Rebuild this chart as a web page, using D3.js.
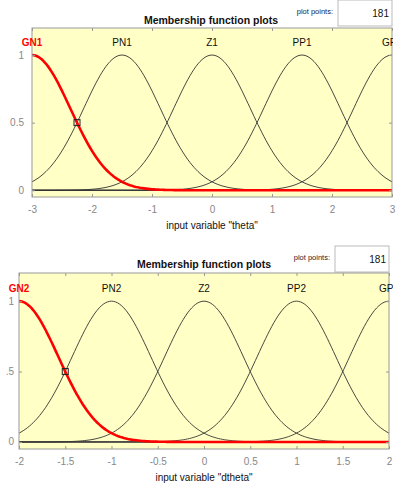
<!DOCTYPE html>
<html>
<head>
<meta charset="utf-8">
<script src="https://cdn.jsdelivr.net/npm/d3@7"></script>
<style>
  body { margin: 0; background: #fff; }
  svg { display: block; font-family: "Liberation Sans", Arial, sans-serif; }
</style>
</head>
<body>
<div id="chart"></div>
<script>
// membership functions (gaussmf: center, sigma)
const thetaNames = ["GN1", "PN1", "Z1", "PP1", "GP1"];
const thetaCenters = [-3, -1.5, 0, 1.5, 3];
const thetaSigma = [0.637, 0.637, 0.637, 0.637, 0.637];
const thetaTicks = [-3, -2, -1, 0, 1, 2, 3];

const dthetaNames = ["GN2", "PN2", "Z2", "PP2", "GP2"];
const dthetaCenters = [-2, -1, 0, 1, 2];
const dthetaSigma = [0.4247, 0.4247, 0.4247, 0.4247, 0.4247];
const dthetaTicks = [-2, -1.5, -1, -0.5, 0, 0.5, 1, 1.5, 2];

const plotPoints = 181;

const width = 398;
const height = 487;

const svg = d3.create("svg")
    .attr("width", width)
    .attr("height", height);
d3.select("#chart").append(() => svg.node());

// the mf labels on the right are cut off like in the original window
svg.append("clipPath").attr("id", "fig")
  .append("rect").attr("x", 0).attr("y", 0).attr("width", 393).attr("height", height);

const panels = [
  { names: thetaNames, centers: thetaCenters, sigma: thetaSigma, ticks: thetaTicks,
    domain: [-3, 3], left: 32, right: 392, top: 28, bottom: 197,
    titleY: 24, titleX: 211, label: 'input variable "theta"',
    box: [338, 0, 54, 26], yFmt: d => d === 0.5 ? "0.5" : d, mark: -2.25,
    yLabX: 24 },
  { names: dthetaNames, centers: dthetaCenters, sigma: dthetaSigma, ticks: dthetaTicks,
    domain: [-2, 2], left: 19, right: 389, top: 273, bottom: 449,
    titleY: 268, titleX: 204, label: 'input variable "dtheta"',
    box: [335, 246, 54, 26], yFmt: d => d === 0.5 ? ".5" : d, mark: -1.5,
    yLabX: 14 }
];

panels.forEach(p => {
  const g = svg.append("g");

  const x = d3.scaleLinear().domain(p.domain).range([p.left, p.right]);
  const y = d3.scaleLinear().domain([-0.05, 1.2]).range([p.bottom, p.top]);

  const gauss = (v, c, s) => Math.exp(-((v - c) ** 2) / (2 * s * s));
  const xs = d3.range(plotPoints).map(i => p.domain[0] + i * (p.domain[1] - p.domain[0]) / (plotPoints - 1));

  // title and plot points box
  g.append("text").attr("x", p.titleX).attr("y", p.titleY)
    .attr("text-anchor", "middle").attr("font-weight", "bold").attr("font-size", 10.5)
    .attr("fill", "#111").text("Membership function plots");
  g.append("text").attr("x", p.box[0] - 5).attr("y", p.box[1] + 14)
    .attr("text-anchor", "end").attr("font-size", 7.5).attr("fill", "#223")
    .text("plot points:");
  g.append("rect").attr("x", p.box[0]).attr("y", p.box[1])
    .attr("width", p.box[2]).attr("height", p.box[3])
    .attr("fill", "#fff").attr("stroke", "#bbb");
  g.append("text").attr("x", p.box[0] + p.box[2] - 3).attr("y", p.box[1] + 17)
    .attr("text-anchor", "end").attr("font-size", 10).attr("fill", "#111")
    .text(plotPoints);

  // plot area
  g.append("rect").attr("x", p.left).attr("y", p.top)
    .attr("width", p.right - p.left).attr("height", p.bottom - p.top)
    .attr("fill", "#ffffc6");

  const line = d3.line().x(d => x(d[0])).y(d => y(d[1]));

  g.append("line").attr("x1", p.left).attr("x2", p.right)
    .attr("y1", y(0)).attr("y2", y(0)).attr("stroke", "#444").attr("stroke-width", 1);

  p.centers.forEach((c, i) => {
    if (i === 0) return;
    g.append("path").datum(xs.map(v => [v, gauss(v, c, p.sigma[i])]))
      .attr("d", line).attr("fill", "none").attr("stroke", "#333").attr("stroke-width", 0.9);
  });
  g.append("path").datum(xs.map(v => [v, gauss(v, p.centers[0], p.sigma[0])]))
    .attr("d", line).attr("fill", "none").attr("stroke", "#f00").attr("stroke-width", 2.6);

  // marker at the crossing
  g.append("rect").attr("x", x(p.mark) - 3).attr("y", y(0.5) - 3)
    .attr("width", 6).attr("height", 6).attr("fill", "none").attr("stroke", "#222");

  // border and ticks
  g.append("rect").attr("x", p.left).attr("y", p.top)
    .attr("width", p.right - p.left).attr("height", p.bottom - p.top)
    .attr("fill", "none").attr("stroke", "#999");

  g.append("g").attr("transform", `translate(0,${p.bottom})`)
    .call(d3.axisBottom(x).tickValues(p.ticks).tickSize(-3).tickPadding(9).tickFormat(d => d))
    .call(a => a.select(".domain").remove())
    .call(a => a.selectAll("line").attr("stroke", "#999"))
    .call(a => a.selectAll("text").attr("fill", "#888").attr("font-size", 10)
      .attr("font-family", "Liberation Sans, Arial, sans-serif"));
  g.append("g").attr("transform", `translate(0,${p.top})`)
    .call(d3.axisTop(x).tickValues(p.ticks).tickSize(-3).tickFormat(""))
    .call(a => a.select(".domain").remove())
    .call(a => a.selectAll("line").attr("stroke", "#999"));
  g.append("g").attr("transform", `translate(${p.left},0)`)
    .call(d3.axisLeft(y).tickValues([0, 0.5, 1]).tickSize(-3).tickFormat(""))
    .call(a => a.select(".domain").remove())
    .call(a => a.selectAll("line").attr("stroke", "#999"));
  g.append("g").attr("transform", `translate(${p.right},0)`)
    .call(d3.axisRight(y).tickValues([0, 0.5, 1]).tickSize(-3).tickFormat(""))
    .call(a => a.select(".domain").remove())
    .call(a => a.selectAll("line").attr("stroke", "#999"));

  g.selectAll(".ylab").data([0, 0.5, 1]).join("text")
    .attr("x", p.yLabX).attr("y", d => y(d) + 3.5)
    .attr("text-anchor", "end").attr("font-size", 10).attr("fill", "#888")
    .text(p.yFmt);

  g.append("text").attr("x", (p.left + p.right) / 2).attr("y", p.bottom + 32)
    .attr("text-anchor", "middle").attr("font-size", 10).attr("fill", "#111")
    .text(p.label);

  // mf names
  g.append("g").attr("clip-path", "url(#fig)")
    .selectAll("text").data(p.names).join("text")
    .attr("x", (d, i) => x(p.centers[i])).attr("y", y(1) - 9)
    .attr("text-anchor", "middle").attr("font-size", 10)
    .attr("font-weight", (d, i) => i === 0 ? "bold" : "normal")
    .attr("fill", (d, i) => i === 0 ? "#f00" : "#111")
    .text(d => d);
});
</script>
</body>
</html>
